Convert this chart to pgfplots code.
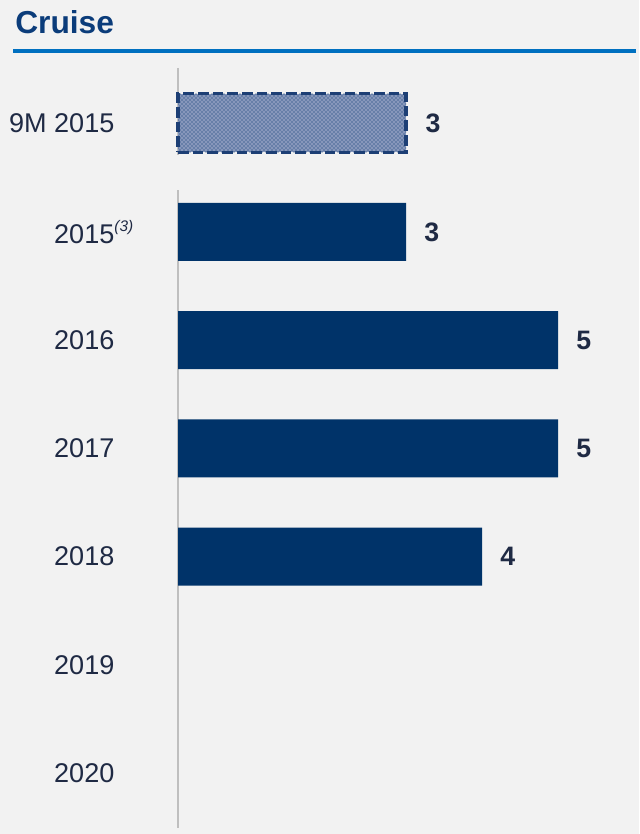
\documentclass[border=0pt]{standalone}
\usepackage{fontspec}
\setmainfont{Liberation Sans}
\usepackage{pgfplots}
\pgfplotsset{compat=1.18}
\usetikzlibrary{patterns}

\definecolor{bg}{HTML}{F2F2F2}
\definecolor{navy}{HTML}{003369}
\definecolor{titleblue}{HTML}{0B3C7A}
\definecolor{rulecol}{HTML}{0070C0}
\definecolor{txt}{HTML}{1F2A44}
\definecolor{axisgray}{HTML}{BFBFBF}
\definecolor{dashblue}{HTML}{1D3F75}
\definecolor{patbg}{HTML}{8797BB}

\pgfplotsset{
  cruise/.style={
    scale only axis, xbar, y dir=reverse,
    xmin=0, xmax=6, width=342pt,
    hide x axis,
    axis y line*=left,
    y axis line style={-, draw=axisgray, line width=1.2pt},
    major tick length=0pt,
    yticklabel style={anchor=east, inner sep=0pt, xshift=-47.5pt,
      font=\fontsize{20.3}{24}\selectfont, text=txt},
    nodes near coords, point meta=explicit symbolic,
    every node near coord/.append style={anchor=west, inner sep=0pt, xshift=13.5pt,
      font=\bfseries\fontsize{20}{24}\selectfont, text=txt},
    clip=false,
  }
}

\begin{document}
\begin{tikzpicture}
\fill[bg] (0,0) rectangle (479.25pt,-625.5pt);
\node[anchor=west, inner sep=0pt, font=\bfseries\fontsize{23.8}{28}\selectfont, text=titleblue]
  at (11.25pt,-16.5pt) {Cruise};
\fill[rulecol] (9.75pt,-36.75pt) rectangle (477pt,-39.75pt);

% 9M 2015
\begin{axis}[cruise,
  at={(133.5pt,-116.25pt)}, anchor=south west,
  height=65.25pt, ymin=-0.632, ymax=0.368,
  ytick={0}, yticklabels={9M 2015},
  bar width=44pt]
\addplot[draw=dashblue, line width=2.6pt, dash pattern=on 8pt off 3pt,
  fill=patbg, postaction={pattern=crosshatch dots, pattern color=navy}]
  coordinates {(3,0) [3]};
\end{axis}

% full years
\begin{axis}[cruise,
  at={(133.5pt,-621pt)}, anchor=south west,
  height=478.5pt, ymin=-0.388, ymax=5.508,
  ytick={0,1,2,3,4,5},
  yticklabels={{2015\rlap{\raisebox{9pt}{\fontsize{11.5}{13}\selectfont\itshape(3)}}},2016,2017,2018,2019,2020},
  bar width=43.5pt]
\addplot[draw=none, fill=navy]
  coordinates {(3,0) [3] (5,1) [5] (5,2) [5] (4,3) [4]};
\end{axis}
\end{tikzpicture}
\end{document}
